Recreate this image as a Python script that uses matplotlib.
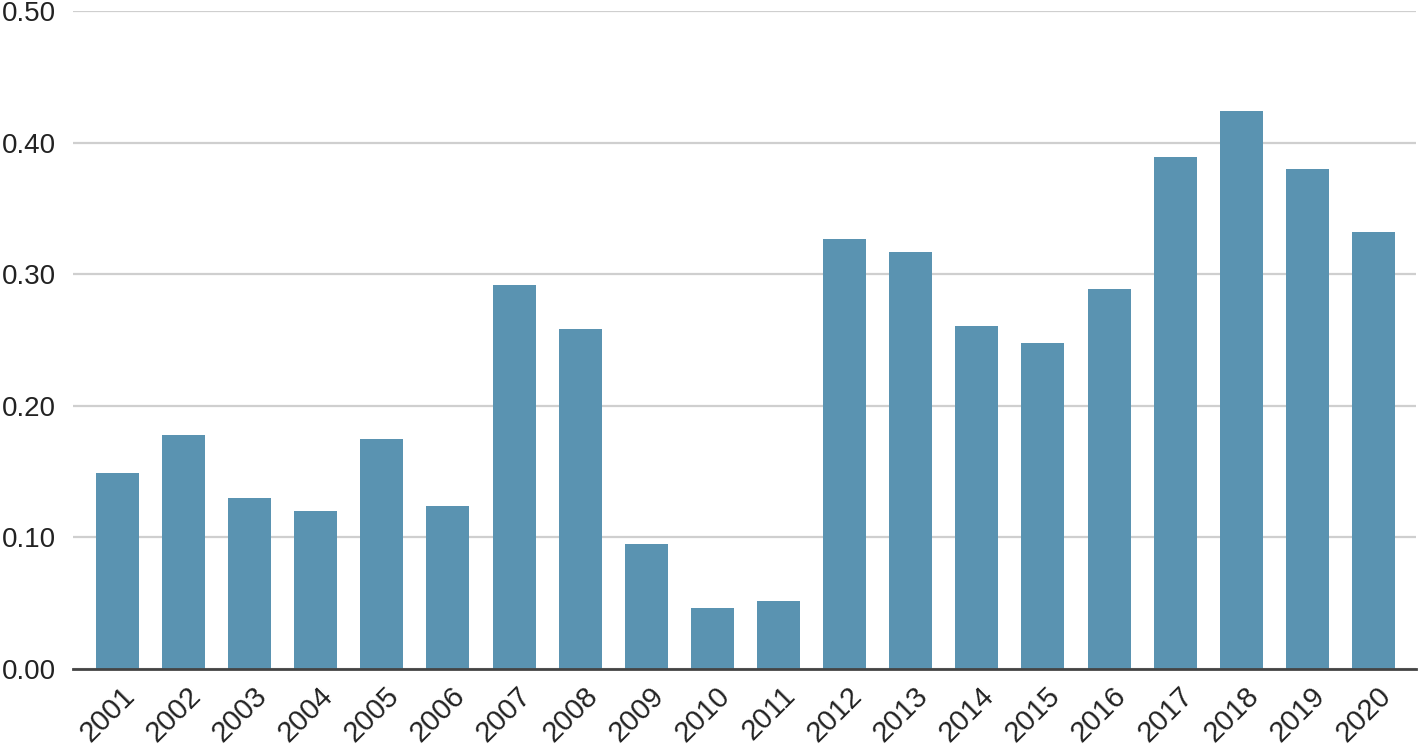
import numpy as np
import matplotlib.pyplot as plt
import matplotlib.transforms as mtransforms
from matplotlib.ticker import FixedLocator

plt.rcParams["font.family"] = ["Liberation Sans", "DejaVu Sans"]

# =====================================================
# DATA
# =====================================================

years = [str(y) for y in range(2001, 2021)]

values = [0.149, 0.178, 0.130, 0.120, 0.175, 0.124, 0.292, 0.258, 0.095, 0.046,
          0.052, 0.327, 0.317, 0.261, 0.248, 0.289, 0.389, 0.424, 0.380, 0.332]

y_ticks = [0.0, 0.1, 0.2, 0.3, 0.4, 0.5]

# =====================================================
# PLOT
# =====================================================

fig = plt.figure(figsize=(14.18, 7.51), dpi=100)
ax = fig.add_axes([0.0515, 0.1092, 0.947, 0.8762])

x = np.arange(len(years))

ax.bar(x, values, width=0.65, color="#5a93b1", zorder=3)

ax.set_xlim(-0.67, len(years) - 1 + 0.64)
ax.set_ylim(0, 0.5)

ax.yaxis.set_major_locator(FixedLocator(y_ticks))
ax.set_yticklabels([f"{v:.2f}" for v in y_ticks])
ax.grid(axis="y", color="#cfcfcf", linewidth=1.6, zorder=0)

ax.set_xticks(x)
ax.set_xticklabels(years, rotation=45, ha="right", va="center",
                   rotation_mode="anchor")

ax.tick_params(axis="both", length=0, labelsize=20, colors="#222222")
ax.tick_params(axis="x", labelsize=21, pad=16)
ax.tick_params(axis="y", pad=12)

# shift the rotated year labels a bit to the right, like the original
shift = mtransforms.ScaledTranslation(0.13, 0, fig.dpi_scale_trans)
for lbl in ax.get_xticklabels():
    lbl.set_transform(lbl.get_transform() + shift)

for s in ["top", "right", "left"]:
    ax.spines[s].set_visible(False)
ax.spines["bottom"].set_color("#444444")
ax.spines["bottom"].set_linewidth(2)
ax.spines["bottom"].set_zorder(4)

plt.savefig("out.png", dpi=100)
plt.close()
